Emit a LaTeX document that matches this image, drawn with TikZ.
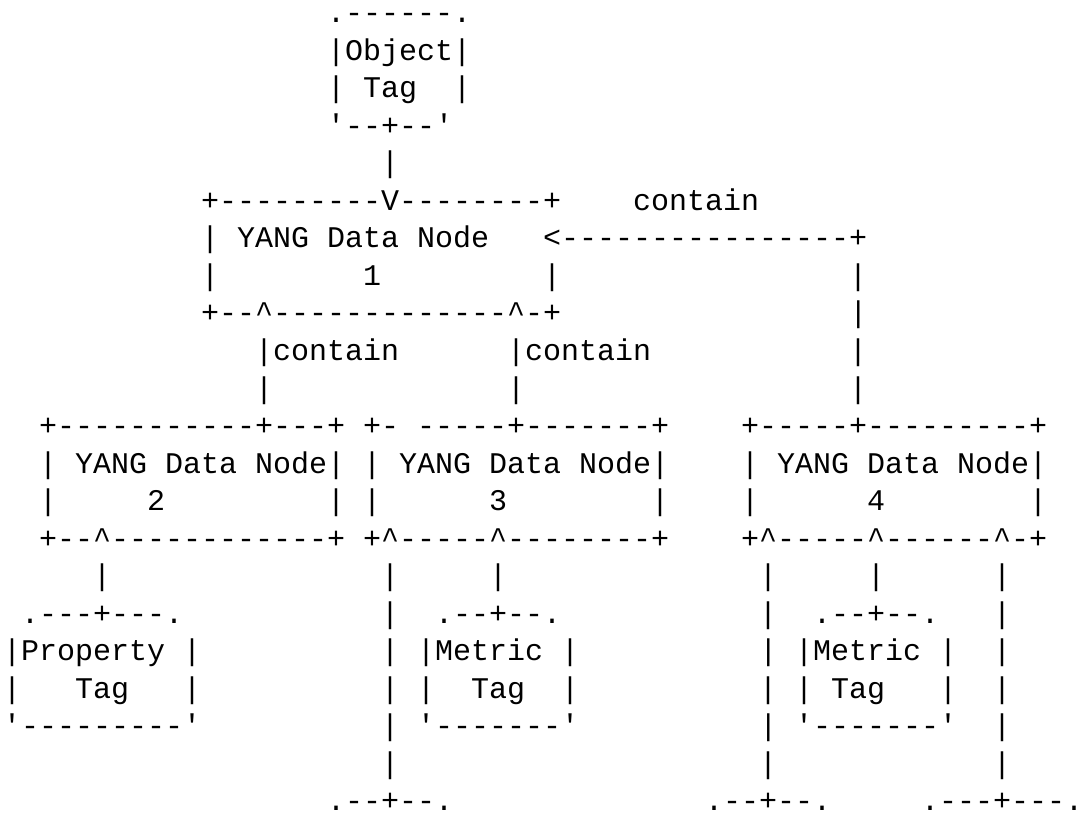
\documentclass[tikz,border=0pt]{standalone}
\usepackage{fontspec}
\setmonofont{Liberation Mono}
\newdimen\charw \charw=18pt
\newcommand\gap[1]{\kern#1\charw}
\newcommand\caret{\textasciicircum}
\begin{document}
\begin{tikzpicture}[x=18pt,y=-37.5pt,
    asc/.style={anchor=base west,inner sep=0pt,
      font=\ttfamily\fontsize{30}{37.5}\selectfont}]
                \useasboundingbox (-3pt,23pt) rectangle (1074pt,-790pt);
                \node [asc] (r0) at (18,0) {.------.};
                \node [asc] (r1) at (18,1) {|Object|};
                \node [asc] (r2) at (18,2) {|\gap{1}Tag\gap{2}|};
                \node [asc] (r3) at (18,3) {'--+--'};
                \node [asc] (r4) at (21,4) {|};
                \node [asc] (r5) at (11,5) {+---------V--------+\gap{4}contain};
                \node [asc] (r6) at (11,6) {|\gap{1}YANG Data Node\gap{3}<----------------+};
                \node [asc] (r7) at (11,7) {|\gap{8}1\gap{9}|\gap{16}|};
                \node [asc] (r8) at (11,8) {+--\caret-------------\caret-+\gap{16}|};
                \node [asc] (r9) at (14,9) {|contain\gap{6}|contain\gap{11}|};
                \node [asc] (r10) at (14,10) {|\gap{13}|\gap{18}|};
                \node [asc] (r11) at (2,11)
                    {+-----------+---+\gap{1}+-\gap{1}-----+-------+\gap{4}+-----+---------+};
                \node [asc] (r12) at (2,12)
                    {|\gap{1}YANG Data Node|\gap{1}|\gap{1}YANG Data Node|\gap{4}|\gap{1}YANG Data Node|};
                \node [asc] (r13) at (2,13)
                    {|\gap{5}2\gap{9}|\gap{1}|\gap{6}3\gap{8}|\gap{4}|\gap{6}4\gap{8}|};
                \node [asc] (r14) at (2,14)
                    {+--\caret------------+\gap{1}+\caret-----\caret--------+\gap{4}+\caret-----\caret------\caret-+};
                \node [asc] (r15) at (5,15) {|\gap{15}|\gap{5}|\gap{14}|\gap{5}|\gap{6}|};
                \node [asc] (r16) at (1,16)
                    {.---+---.\gap{11}|\gap{2}.--+--.\gap{11}|\gap{2}.--+--.\gap{3}|};
                \node [asc] (r17) at (0,17)
                    {|Property\gap{1}|\gap{10}|\gap{1}|Metric\gap{1}|\gap{10}|\gap{1}|Metric\gap{1}|\gap{2}|};
                \node [asc] (r18) at (0,18)
                    {|\gap{3}Tag\gap{3}|\gap{10}|\gap{1}|\gap{2}Tag\gap{2}|\gap{10}|\gap{1}|\gap{1}Tag\gap{3}|\gap{2}|};
                \node [asc] (r19) at (0,19)
                    {'---------'\gap{10}|\gap{1}'-------'\gap{10}|\gap{1}'-------'\gap{2}|};
                \node [asc] (r20) at (21,20) {|\gap{20}|\gap{12}|};
                \node [asc] (r21) at (18,21) {.--+--.\gap{14}.--+--.\gap{5}.---+---.};
            \end{tikzpicture}
\end{document}
